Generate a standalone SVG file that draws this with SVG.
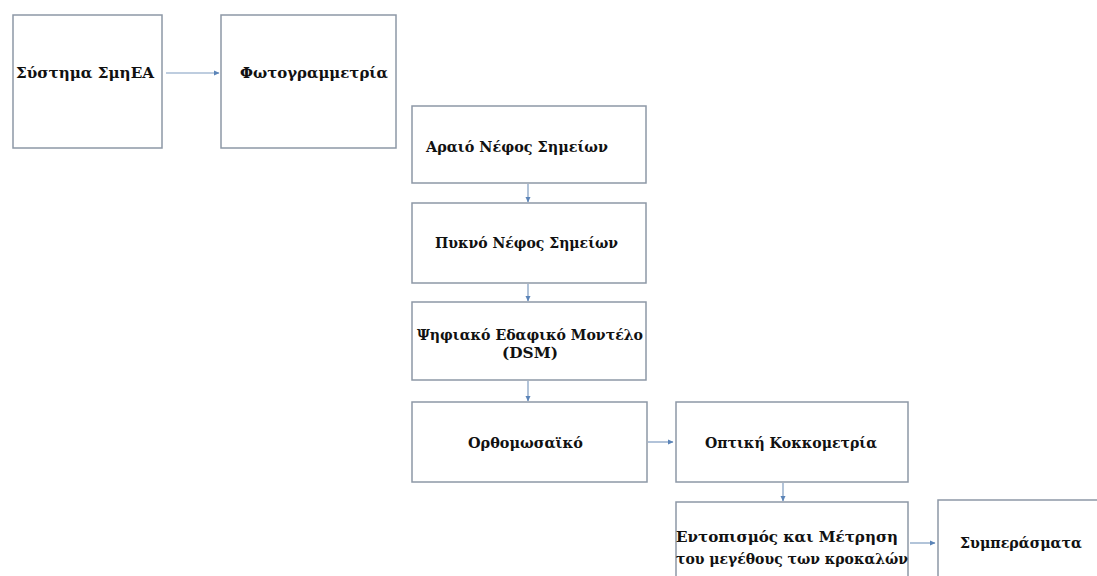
<svg xmlns="http://www.w3.org/2000/svg" width="1097" height="576" viewBox="0 0 1097 576">
<style>
.box{fill:#fff;stroke:#8d98a6;stroke-width:1.5}
.t{font-family:"DejaVu Serif","Liberation Serif",serif;font-weight:bold;font-size:14.5px;fill:#111}
.c{stroke:#7f9cc0;stroke-width:1.2;fill:none;marker-end:url(#ah)}
</style>
<defs>
<marker id="ah" markerWidth="6" markerHeight="6" refX="5" refY="3" orient="auto" markerUnits="userSpaceOnUse">
<path d="M0,0.5 L5.5,3 L0,5.5 Z" fill="#5b84b8"/>
</marker>
</defs>
<rect width="1097" height="576" fill="#fff"/>
<g id="connectors">
<line class="c" x1="166" y1="73" x2="219" y2="73"/>
<line class="c" x1="528" y1="184" x2="528" y2="202"/>
<line class="c" x1="528" y1="284" x2="528" y2="301"/>
<line class="c" x1="528" y1="381" x2="528" y2="401"/>
<line class="c" x1="648" y1="442" x2="673" y2="442"/>
<line class="c" x1="783" y1="483" x2="783" y2="501"/>
<line class="c" x1="910" y1="543" x2="935" y2="543"/>
</g>
<g id="n1"><rect class="box" x="13" y="15" width="149" height="133"/>
<text class="t" x="16" y="78" textLength="138" lengthAdjust="spacingAndGlyphs">Σύστημα ΣμηΕΑ</text></g>
<g id="n2"><rect class="box" x="221" y="15" width="175" height="133"/>
<text class="t" x="240" y="78" textLength="148" lengthAdjust="spacingAndGlyphs">Φωτογραμμετρία</text></g>
<g id="n3"><rect class="box" x="412" y="106" width="234" height="77"/>
<text class="t" x="426" y="152" textLength="182" lengthAdjust="spacingAndGlyphs">Αραιό Νέφος Σημείων</text></g>
<g id="n4"><rect class="box" x="412" y="203" width="234" height="80"/>
<text class="t" x="435" y="248" textLength="183" lengthAdjust="spacingAndGlyphs">Πυκνό Νέφος Σημείων</text></g>
<g id="n5"><rect class="box" x="412" y="302" width="234" height="78"/>
<text class="t" x="417" y="340" textLength="226" lengthAdjust="spacingAndGlyphs">Ψηφιακό Εδαφικό Μοντέλο</text>
<text class="t" x="502" y="358" textLength="56" lengthAdjust="spacingAndGlyphs">(DSM)</text></g>
<g id="n6"><rect class="box" x="412" y="402" width="235" height="80"/>
<text class="t" x="468" y="448" textLength="115" lengthAdjust="spacingAndGlyphs">Ορθομωσαϊκό</text></g>
<g id="n7"><rect class="box" x="676" y="402" width="232" height="80"/>
<text class="t" x="705" y="448" textLength="172" lengthAdjust="spacingAndGlyphs">Οπτική Κοκκομετρία</text></g>
<g id="n8"><rect class="box" x="676" y="502" width="232" height="110"/>
<text class="t" x="676" y="542" textLength="222" lengthAdjust="spacingAndGlyphs">Εντοπισμός και Μέτρηση</text>
<text class="t" x="676" y="564" textLength="232" lengthAdjust="spacingAndGlyphs">του μεγέθους των κροκαλών</text></g>
<g id="n9"><rect class="box" x="938" y="500" width="180" height="110"/>
<text class="t" x="960" y="548" textLength="122" lengthAdjust="spacingAndGlyphs">Συμπεράσματα</text></g>
</svg>
